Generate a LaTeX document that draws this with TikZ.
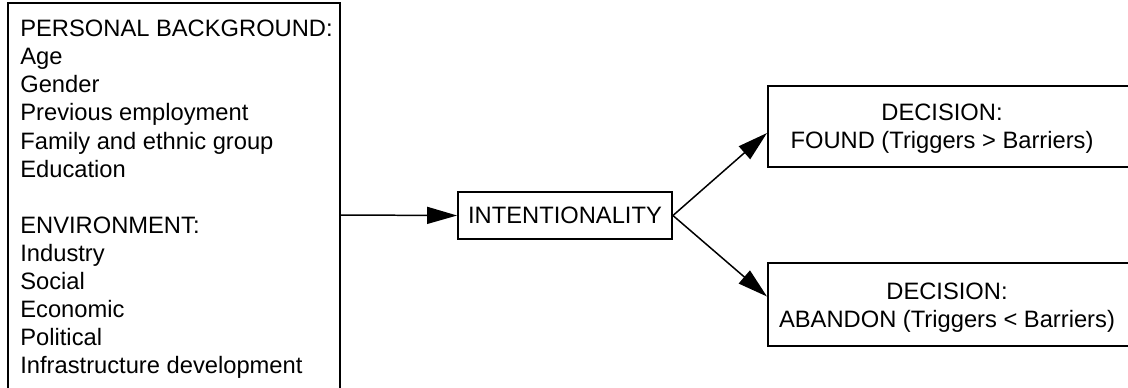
\documentclass[tikz,border=0pt]{standalone}
\usepackage{fontspec}
\setmainfont{Liberation Sans}
\usetikzlibrary{arrows.meta}

\begin{document}
\begin{tikzpicture}[x=0.02cm, y=-0.02cm,
	every node/.style={font=\fontsize{13.5}{15.95}\selectfont},
	box/.style={draw, line width=1.1pt, inner sep=0pt},
	txt/.style={inner sep=0pt, align=left},
	arr/.style={line width=0.85pt, -{Triangle[length=0.6cm, width=0.34cm]}}]
	\clip (0,0) rectangle (1128,387);
	% factors on the left
	\node[box, minimum width=6.64cm, minimum height=8.48cm] (factors) at (174,215) {};
	\node[txt, anchor=north west] (factorslist) at (20,20) {PERSONAL BACKGROUND:\\Age\\Gender\\Previous employment\\Family and ethnic group\\Education\\[15.95pt]ENVIRONMENT:\\Industry\\Social\\Economic\\Political\\Infrastructure development};
	% intentionality
	\node[box, minimum width=4.28cm, minimum height=0.94cm] (intent) at (565,215.5) {INTENTIONALITY};
	% the two decisions
	\node[box, anchor=west, minimum width=8cm, minimum height=1.62cm] (found) at (767,126.5) {};
	\node[txt, align=center, anchor=north] (foundtext) at (942,104) {DECISION:\\FOUND (Triggers > Barriers)};
	\node[box, anchor=west, minimum width=8cm, minimum height=1.66cm] (abandon) at (767,304.5) {};
	\node[txt, align=center, anchor=north] (abandontext) at (947,283) {DECISION:\\ABANDON (Triggers < Barriers)};
	% arrows
	\draw[arr] (factors.east) -- (intent.west);
	\draw[arr] (intent.east) -- ([yshift=-0.13cm]found.west);
	\draw[arr] (intent.east) -- ([yshift=0.16cm]abandon.west);
\end{tikzpicture}
\end{document}
